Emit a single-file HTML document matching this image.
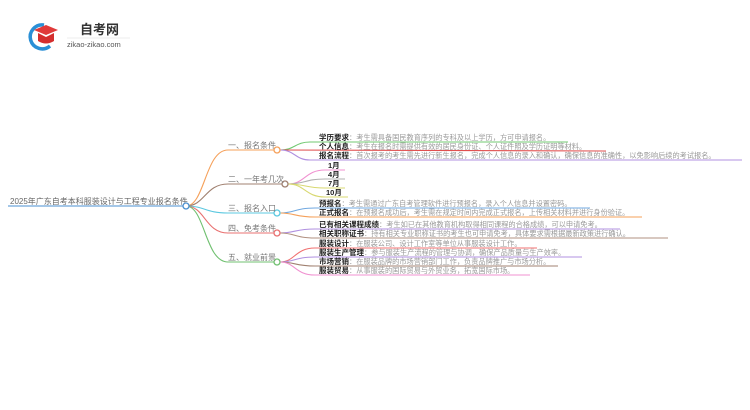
<!DOCTYPE html>
<html><head><meta charset="utf-8"><style>
html,body{margin:0;padding:0;background:#fff;width:750px;height:410px;overflow:hidden}
svg text{font-family:"Liberation Sans","Noto Sans CJK SC",sans-serif}
.b{font-size:8px;fill:#777}
.l{font-size:7.5px;fill:#222;font-weight:bold}
.d{font-size:7.2px;fill:#999}
</style></head><body>
<svg width="750" height="410" viewBox="0 0 750 410" xmlns="http://www.w3.org/2000/svg">
<path d="M44 25 A12 12 0 1 0 50 46" stroke="#2a8fd6" stroke-width="3.5" fill="none"/>
<polygon points="34,30 46,25 58,30 46,35" fill="#e03a3a"/>
<path d="M38 33 L38 41 Q46 46 54 41 L54 33 L46 37 Z" fill="#d42e2e"/>
<text x="80" y="34" style="font-size:13px;font-weight:bold;fill:#333">自考网</text>
<line x1="67" y1="38" x2="130" y2="38" stroke="#ddd" stroke-width="0.6"/>
<text x="67" y="47" style="font-size:7.5px;fill:#555">zikao-zikao.com</text>

<text x="10" y="204" class="b" style="fill:#666">2025年广东自考本科服装设计与工程专业报名条件</text>
<line x1="8" y1="206" x2="183" y2="206" stroke="#4a8fd0" stroke-width="1"/>

<g fill="none" stroke-width="1.1">
<path d="M186 206 C205 206,205 150,228 150 L275 150" stroke="#f5a05a"/>
<path d="M186 206 C205 206,205 184,228 184 L282 184" stroke="#a08070"/>
<path d="M186 206 C205 206,205 213,228 213 L275 213" stroke="#5bc8e0"/>
<path d="M186 206 C205 206,205 233,228 233 L275 233" stroke="#e87070"/>
<path d="M186 206 C205 206,205 262,228 262 L275 262" stroke="#70c070"/>
<path d="M280 150 C295 150,295 142,310 142 L568 142" stroke="#70c870"/>
<path d="M280 150 L606 151" stroke="#e05050"/>
<path d="M280 150 C295 150,295 160,310 160 L742 160" stroke="#b090e0"/>
<path d="M288 184 C305 184,305 170,325 170 L345 170" stroke="#f090d0"/>
<path d="M288 184 C305 184,305 179,325 179 L345 179" stroke="#b0b0b0"/>
<path d="M288 184 C305 184,305 188,325 188 L345 188" stroke="#d8d870"/>
<path d="M288 184 C305 184,305 197,325 197 L348 197" stroke="#d8d870"/>
<path d="M280 213 C295 213,295 208,315 208 L590 208" stroke="#70a8e0"/>
<path d="M280 213 C295 213,295 217,315 217 L642 217" stroke="#f5a05a"/>
<path d="M280 233 C295 233,295 229,315 229 L620 229" stroke="#b090e0"/>
<path d="M280 233 C295 233,295 238,315 238 L668 238" stroke="#b09080"/>
<path d="M280 262 C295 262,295 248,315 248 L537 248" stroke="#f07070"/>
<path d="M280 262 C295 262,295 257,315 257 L582 257" stroke="#b090e0"/>
<path d="M280 262 C295 262,295 266,315 266 L558 266" stroke="#a08070"/>
<path d="M280 262 C295 262,295 275,315 275 L530 275" stroke="#f090d0"/>
</g>
<g fill="#fff" stroke-width="1.3">
<circle cx="186" cy="206" r="3" stroke="#4a8fd0"/>
<circle cx="277" cy="150" r="3" stroke="#f5a05a"/>
<circle cx="285" cy="184" r="3" stroke="#a08070"/>
<circle cx="277" cy="213" r="3" stroke="#5bc8e0"/>
<circle cx="277" cy="233" r="3" stroke="#e87070"/>
<circle cx="277" cy="262" r="3" stroke="#70c070"/>
</g>
<text x="228" y="148" class="b">一、报名条件</text>
<text x="228" y="182" class="b">二、一年考几次</text>
<text x="228" y="211" class="b">三、报名入口</text>
<text x="228" y="231" class="b">四、免考条件</text>
<text x="228" y="260" class="b">五、就业前景</text>

<text x="319" y="140"><tspan class="l">学历要求</tspan><tspan class="d">：考生需具备国民教育序列的专科及以上学历，方可申请报名。</tspan></text>
<text x="319" y="149"><tspan class="l">个人信息</tspan><tspan class="d">：考生在报名时需提供有效的居民身份证、个人证件照及学历证明等材料。</tspan></text>
<text x="319" y="158"><tspan class="l">报名流程</tspan><tspan class="d">：首次报考的考生需先进行新生报名，完成个人信息的录入和确认，确保信息的准确性，以免影响后续的考试报名。</tspan></text>
<text x="328" y="168" class="l">1月</text>
<text x="328" y="177" class="l">4月</text>
<text x="328" y="186" class="l">7月</text>
<text x="326" y="195" class="l">10月</text>
<text x="319" y="206"><tspan class="l">预报名</tspan><tspan class="d">：考生需通过广东自考管理软件进行预报名，录入个人信息并设置密码。</tspan></text>
<text x="319" y="215"><tspan class="l">正式报名</tspan><tspan class="d">：在预报名成功后，考生需在规定时间内完成正式报名，上传相关材料并进行身份验证。</tspan></text>
<text x="319" y="227"><tspan class="l">已有相关课程成绩</tspan><tspan class="d">：考生如已在其他教育机构取得相同课程的合格成绩，可以申请免考。</tspan></text>
<text x="319" y="236"><tspan class="l">相关职称证书</tspan><tspan class="d">：持有相关专业职称证书的考生也可申请免考，具体要求需根据最新政策进行确认。</tspan></text>
<text x="319" y="246"><tspan class="l">服装设计</tspan><tspan class="d">：在服装公司、设计工作室等单位从事服装设计工作。</tspan></text>
<text x="319" y="255"><tspan class="l">服装生产管理</tspan><tspan class="d">：参与服装生产流程的管理与协调，确保产品质量与生产效率。</tspan></text>
<text x="319" y="264"><tspan class="l">市场营销</tspan><tspan class="d">：在服装品牌的市场营销部门工作，负责品牌推广与市场分析。</tspan></text>
<text x="319" y="273"><tspan class="l">服装贸易</tspan><tspan class="d">：从事服装的国际贸易与外贸业务，拓宽国际市场。</tspan></text>
</svg>
</body></html>
